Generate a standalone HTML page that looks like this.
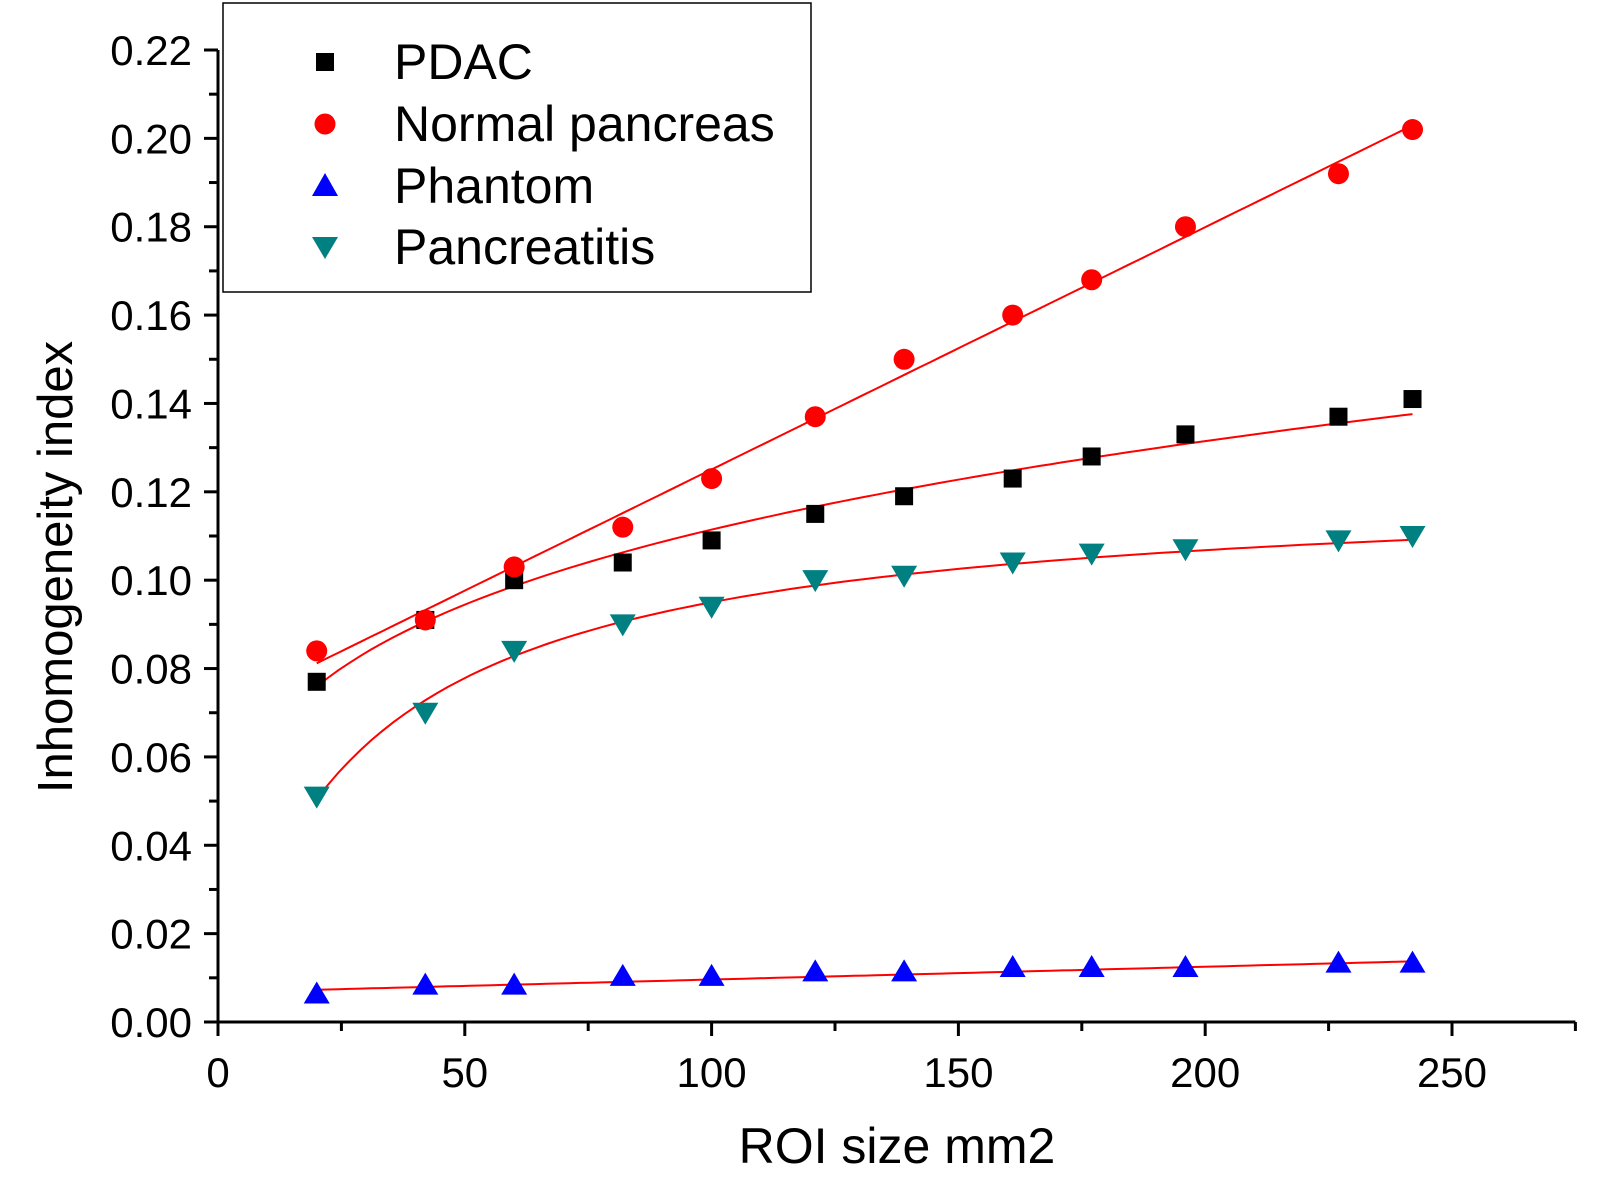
<!DOCTYPE html>
<html><head><meta charset="utf-8"><style>
html,body{margin:0;padding:0;background:#fff;}
svg{display:block;font-family:"Liberation Sans",Arial,sans-serif;}
</style></head><body>
<svg id="chart" width="1618" height="1186" viewBox="0 0 1618 1186" xmlns="http://www.w3.org/2000/svg">
<rect width="1618" height="1186" fill="#fff"/>
<g id="axes"></g>
<g id="fits"></g>
<g id="marks"></g>
<text x="897" y="1163" font-size="50" text-anchor="middle">ROI size mm2</text>
<text transform="translate(72,567) rotate(-90)" font-size="49" text-anchor="middle">Inhomogeneity index</text>
<g>
<rect x="223" y="3" width="588" height="289" fill="#fff" stroke="#000" stroke-width="1.5"/>
<rect x="316" y="53" width="18" height="18" fill="#000"/>
<text x="394" y="79" font-size="50">PDAC</text>
<circle cx="325" cy="124" r="10.5" fill="#f00"/>
<text x="394" y="141" font-size="50">Normal pancreas</text>
<path d="M325,173 L338,196 L312,196 Z" fill="#00f"/>
<text x="394" y="203" font-size="50">Phantom</text>
<path d="M325,259 L338,237 L312,237 Z" fill="#008080"/>
<text x="394" y="264" font-size="50">Pancreatitis</text>
</g>
</svg>
<script>
const xValues = [20, 42, 60, 82, 100, 121, 139, 161, 177, 196, 227, 242];
const pdacValues = [0.077, 0.091, 0.100, 0.104, 0.109, 0.115, 0.119, 0.123, 0.128, 0.133, 0.137, 0.141];
const normalValues = [0.084, 0.091, 0.103, 0.112, 0.123, 0.137, 0.150, 0.160, 0.168, 0.180, 0.192, 0.202];
const phantomValues = [0.006, 0.008, 0.008, 0.010, 0.010, 0.011, 0.011, 0.012, 0.012, 0.012, 0.013, 0.013];
const pancreatitisValues = [0.051, 0.070, 0.084, 0.090, 0.094, 0.100, 0.101, 0.104, 0.106, 0.107, 0.109, 0.110];
const xTicks = [0, 50, 100, 150, 200, 250];
const yTicks = [0.00, 0.02, 0.04, 0.06, 0.08, 0.10, 0.12, 0.14, 0.16, 0.18, 0.20, 0.22];

const NS = "http://www.w3.org/2000/svg";
const X0 = 218, XS = 4.936, Y0 = 1022, YS = 972 / 0.22;
function sx(v){ return X0 + v * XS; }
function sy(v){ return Y0 - v * YS; }
function mk(tag, attrs, parent){
  const e = document.createElementNS(NS, tag);
  for (const k in attrs) e.setAttribute(k, attrs[k]);
  parent.appendChild(e); return e;
}
const axes = document.getElementById('axes');
let el = mk('line', {x1: sx(0), y1: sy(0), x2: sx(275), y2: sy(0), stroke: '#000', 'stroke-width': 3}, axes);


el = mk('line', {x1: sx(0), y1: sy(0)+1.5, x2: sx(0), y2: sy(0.22), stroke: '#000', 'stroke-width': 3}, axes);


for (let v = 0; v <= 275; v += 25) {
  const major = v % 50 === 0;
  el = mk('line', {x1: sx(v), y1: sy(0), x2: sx(v), y2: sy(0) + (major ? 14 : 9), stroke: '#000', 'stroke-width': 3}, axes);
  
  
}
xTicks.forEach(v => {
  el = mk('text', {x: sx(v), y: 1087, 'font-size': 42, 'text-anchor': 'middle'}, axes);
  el.textContent = String(v);
  
  
});
for (let i = 0; i <= 22; i++) {
  const v = i / 100, major = i % 2 === 0;
  el = mk('line', {x1: sx(0), y1: sy(v), x2: sx(0) - (major ? 14 : 9), y2: sy(v), stroke: '#000', 'stroke-width': 3}, axes);
  
  
}
yTicks.forEach(v => {
  el = mk('text', {x: 192, y: sy(v) + 15, 'font-size': 42, 'text-anchor': 'end'}, axes);
  el.textContent = v.toFixed(2);
  
  
});

function linfit(t, ys){
  const n = t.length;
  const mt = t.reduce((a,b)=>a+b,0)/n, my = ys.reduce((a,b)=>a+b,0)/n;
  let num = 0, den = 0;
  for (let i = 0; i < n; i++){ num += (t[i]-mt)*(ys[i]-my); den += (t[i]-mt)*(t[i]-mt); }
  const b = num/den; return [my - b*mt, b];
}
function fitLinear(ys){ const [a,b] = linfit(xValues, ys); return x => a + b*x; }
function fitPower(ys){ const [a,b] = linfit(xValues.map(Math.log), ys.map(Math.log)); return x => Math.exp(a) * Math.pow(x, b); }
function fitSat(ys){ const [a,b] = linfit(xValues.map(x=>1/x), ys.map(y=>1/y)); return x => 1/(a + b/x); }

const fitsG = document.getElementById('fits');
[[fitPower(pdacValues), 'fit-pdac'], [fitLinear(normalValues), 'fit-normal'], [fitLinear(phantomValues), 'fit-phantom'], [fitSat(pancreatitisValues), 'fit-pancreatitis']].forEach(([f, name]) => {
  const x1 = xValues[0], x2 = xValues[xValues.length-1];
  let d = '';
  for (let k = 0; k <= 100; k++) {
    const x = x1 + (x2 - x1) * k / 100;
    d += (k ? 'L' : 'M') + sx(x).toFixed(1) + ',' + sy(f(x)).toFixed(1);
  }
  el = mk('path', {d: d, fill: 'none', stroke: '#f00', 'stroke-width': 2}, fitsG);
  
  
});

const marks = document.getElementById('marks');
xValues.forEach((x, i) => {
  const cx = sx(x);
  let y = sy(pdacValues[i]);
  el = mk('rect', {x: cx - 9, y: y - 9, width: 18, height: 18, fill: '#000'}, marks);
  
  
  y = sy(normalValues[i]);
  el = mk('circle', {cx: cx, cy: y, r: 10.5, fill: '#f00'}, marks);
  
  
  y = sy(phantomValues[i]);
  el = mk('path', {d: `M${cx},${y-14} L${cx+13},${y+8} L${cx-13},${y+8} Z`, fill: '#00f'}, marks);
  
  
  y = sy(pancreatitisValues[i]);
  el = mk('path', {d: `M${cx},${y+12} L${cx+13},${y-10} L${cx-13},${y-10} Z`, fill: '#008080'}, marks);
  
  
});
</script>
</body></html>
